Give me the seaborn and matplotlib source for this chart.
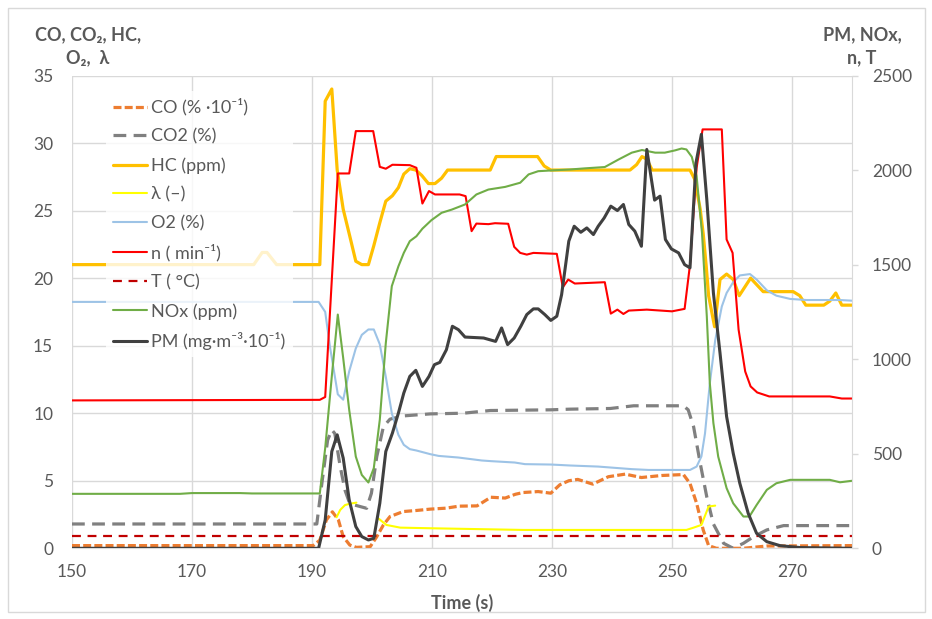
import matplotlib
matplotlib.use("Agg")
import matplotlib.pyplot as plt
from matplotlib.lines import Line2D
from matplotlib.patches import Rectangle
import seaborn as sns
import pandas as pd

# ---- data (time in s) ----
# left axis: CO (%*10^-1), CO2 (%), HC, lambda, O2 (%)
co_t = [150, 190.2, 191.3, 192.4, 193.4, 194.4, 195.2, 196.3, 197.4, 199.7,
        200.8, 201.9, 203, 205.2, 207.4, 209.7, 212.3, 214.5, 217.5, 219.8,
        222.2, 223.9, 225.2, 227.7, 229.8, 231.3, 232.8, 234.3, 236.8, 239.4,
        242.2, 244.9, 248.3, 251.9, 253, 254.1, 255.2, 256.1, 257.4, 261.9,
        265.8, 280]
co_v = [0.2, 0.2, 0.6, 2.1, 2.7, 2.1, 0.86, 0.24, 0.07, 0.12,
        0.86, 1.73, 2.35, 2.72, 2.8, 2.9, 2.97, 3.12, 3.14, 3.78,
        3.72, 4.0, 4.13, 4.2, 4.08, 4.7, 5.0, 5.1, 4.75, 5.3,
        5.49, 5.24, 5.39, 5.46, 4.8, 3.34, 1.36, 0.2, 0.0, 0.0,
        0.17, 0.2]

co2_t = [150, 190.8, 191.7, 192.6, 193.3, 193.8, 194.7, 195.5, 196.3, 199.1,
         199.9, 200.8, 201.9, 203, 205.2, 209.7, 215.2, 219.7, 229.7, 233,
         239.7, 243.6, 251.9, 252.7, 253.6, 254.7, 255.8, 256.9, 258.6, 260.2,
         261.9, 263.6, 265.8, 268.6, 280]
co2_v = [1.8, 1.8, 5.0, 8.0, 8.77, 8.5, 6.05, 4.3, 3.3, 2.96,
         4.07, 6.8, 9.0, 9.56, 9.8, 9.95, 10.0, 10.2, 10.25, 10.3,
         10.35, 10.55, 10.55, 10.25, 9.0, 6.3, 3.8, 1.8, 0.37, 0.0,
         0.37, 0.86, 1.36, 1.68, 1.68]

hc_t = [150, 180.3, 181.7, 182.5, 184.1, 191.3, 192.2, 193.3, 194.2, 195.2,
        196.3, 197.3, 198.3, 199.4, 200.3, 201.3, 202.3, 203.4, 204.4, 205.3,
        206.3, 207.3, 208.3, 209.4, 210.5, 211.6, 212.6, 219.7, 220.7, 227.6,
        228.7, 229.8, 243.0, 244.1, 245.0, 245.8, 246.7, 253.0, 253.8, 254.7,
        255.2, 255.7, 256.1, 257.1, 258.0, 259.1, 260.2, 261.2, 263.1, 265.2,
        270.2, 271.3, 272.3, 275.3, 276.3, 277.3, 278.3, 280]
hc_v = [21, 21, 21.9, 21.9, 21, 21, 33.1, 34.0, 28.0, 25.1,
        23.1, 21.25, 21.0, 21.0, 22.4, 24.1, 25.7, 26.1, 26.7, 27.7,
        28.1, 28.0, 27.6, 27.0, 27.0, 27.4, 28.0, 28.0, 29.0, 29.0,
        28.3, 28.0, 28.0, 28.4, 29.0, 28.8, 28.0, 28.0, 27.3, 25.1,
        23.3, 20.9, 18.7, 16.4, 19.9, 20.3, 19.9, 18.7, 20.0, 19.0,
        19.0, 18.7, 18.0, 18.0, 18.3, 18.9, 18.0, 18.0]

lam_t = [194.1, 194.7, 195.5, 196.3, 197.4,
         201.1, 202.4, 204.7, 210.2, 225.2, 252.4, 253.6, 254.9, 256.1, 257.2]
lam_v = [2.3, 2.84, 3.2, 3.3, 3.38,
         2.2, 1.73, 1.53, 1.48, 1.36, 1.36, 1.53, 1.73, 3.09, 3.16]
lam_seg = [0, 0, 0, 0, 0, 1, 1, 1, 1, 1, 1, 1, 1, 1, 1]

o2_t = [150, 191.1, 192.2, 193.0, 194.3, 195.2, 196.2, 197.3, 198.3, 199.4,
        200.3, 201.3, 202.3, 203.3, 204.4, 205.3, 206.3, 207.4, 209.7, 211.1,
        214.4, 218.3, 219.9, 223.8, 225.5, 229.9, 233.0, 237.7, 243.3, 246.1,
        253.0, 254.1, 254.9, 255.5, 256.3, 257.2, 258.3, 259.1, 260.2, 261.3,
        263.0, 264.1, 265.8, 267.4, 269.7, 272.4, 278.0, 280]
o2_v = [18.24, 18.24, 17.5, 14.9, 11.4, 11.0, 13.1, 14.8, 15.8, 16.2,
        16.2, 15.1, 12.7, 10.0, 8.4, 7.66, 7.34, 7.24, 6.97, 6.84,
        6.72, 6.5, 6.45, 6.35, 6.23, 6.2, 6.13, 6.05, 5.86, 5.8,
        5.8, 6.05, 6.8, 8.5, 12.2, 15.4, 17.9, 18.9, 19.7, 20.2,
        20.3, 19.9, 19.1, 18.7, 18.46, 18.38, 18.38, 18.33]

# right axis: n (min^-1), T (degC), NOx (ppm), PM (mg/m3*10^-1)
n_t = [150, 191.3, 192.2, 194.3, 196.2, 197.3, 200.2, 201.3, 202.3, 203.4,
       206.3, 207.4, 208.4, 209.5, 210.5, 214.6, 215.6, 216.6, 217.4, 219.4,
       220.5, 222.7, 223.7, 224.7, 225.8, 226.9, 230.8, 231.8, 232.7, 233.8,
       238.8, 239.8, 240.9, 241.9, 242.8, 245.8, 250.0, 252.1, 253.0, 254.1,
       255.1, 258.3, 259.1, 260.1, 261.1, 262.2, 263.1, 264.2, 266.2, 276.3,
       278.3, 280]
n_v = [782, 785, 800, 1982, 1982, 2206, 2206, 2017, 2007, 2028,
       2026, 2012, 1823, 1889, 1871, 1871, 1862, 1677, 1717, 1714,
       1719, 1716, 1594, 1562, 1553, 1562, 1557, 1380, 1421, 1400,
       1407, 1241, 1262, 1239, 1257, 1262, 1253, 1266, 1500, 2012,
       2215, 2215, 1633, 1562, 1156, 935, 856, 824, 803, 803,
       792, 792]

temp_t = [150, 280]
temp_v = [65, 65]

nox_t = [150, 168, 170, 178, 180, 191.3, 192.2, 193.3, 194.3, 195.2,
         196.2, 197.3, 198.3, 199.4, 200.3, 201.3, 202.3, 203.3, 204.4, 205.3,
         206.3, 207.4, 208.4, 209.9, 211.6, 213.3, 215.5, 217.4, 219.4, 222.2,
         224.7, 226.1, 227.7, 229.9, 233.0, 235.5, 238.8, 241.1, 243.3, 245.0,
         247.2, 248.8, 250.5, 251.6, 252.4, 253.3, 254.1, 255.0, 255.8, 256.3,
         256.9, 257.7, 259.1, 260.2, 261.9, 262.9, 264.1, 265.8, 267.4, 269.7,
         276.3, 278.0, 280]
nox_v = [288, 288, 292, 292, 290, 290, 530, 909, 1236, 1006,
         732, 485, 388, 348, 424, 680, 1085, 1386, 1491, 1562,
         1624, 1650, 1690, 1735, 1774, 1791, 1818, 1871, 1897, 1911,
         1933, 1977, 1994, 1998, 2003, 2009, 2016, 2056, 2092, 2106,
         2092, 2092, 2104, 2114, 2109, 2070, 1968, 1668, 1227, 874,
         662, 485, 318, 238, 168, 168, 229, 309, 344, 362,
         362, 349, 357]

pm_t = [150, 191.1, 192.2, 193.3, 194.2, 195.2, 196.2, 197.3, 198.3, 199.4,
        200.3, 201.3, 202.3, 203.4, 204.4, 205.3, 206.3, 207.3, 208.4, 209.5,
        210.4, 211.3, 212.4, 213.4, 214.4, 215.5, 218.6, 220.6, 221.6, 222.6,
        223.7, 224.8, 225.8, 226.9, 227.7, 228.8, 229.8, 230.8, 231.6, 232.8,
        233.7, 234.8, 235.8, 236.9, 237.7, 238.7, 239.8, 240.9, 241.9, 242.8,
        243.8, 244.9, 245.8, 247.1, 248.0, 248.9, 249.9, 251.1, 252.1, 253.0,
        254.0, 254.9, 255.8, 256.9, 258.0, 259.1, 260.2, 261.3, 262.7, 264.1,
        265.8, 268.0, 271.3, 280]
pm_v = [0, 0, 150, 512, 600, 477, 256, 115, 62, 44,
        53, 238, 512, 609, 715, 821, 909, 941, 856, 909,
        971, 983, 1050, 1174, 1156, 1117, 1112, 1094, 1165, 1077,
        1112, 1174, 1236, 1266, 1266, 1236, 1205, 1227, 1341, 1624,
        1703, 1671, 1694, 1659, 1703, 1747, 1809, 1786, 1818, 1712,
        1677, 1597, 2109, 1841, 1862, 1633, 1583, 1562, 1500, 1483,
        2039, 2189, 1844, 1350, 1033, 697, 503, 344, 185, 79,
        35, 14, 4, 0]

labels = ["CO (% ·10⁻¹)", "CO2 (%)", "HC (ppm)", "λ (–)", "O2 (%)",
          "n ( min⁻¹)", "T ( °C)", "NOx (ppm)", "PM (mg·m⁻³·10⁻¹)"]

sns.set_style("white")
plt.rcParams['font.family'] = ['Lato', 'DejaVu Sans']

GRAY = '#595959'
GRID = '#d9d9d9'

fig = plt.figure(figsize=(9.32, 6.19), dpi=100)
ax = fig.add_axes([72 / 932, 1 - 548.3 / 619, 780 / 932, 472.8 / 619])
ax2 = ax.twinx()

styles = {
    "CO": ('#ED7D31', 2.3, (0, (2.5, 1))),
    "CO2": ('#808080', 2.3, (0, (4, 2.3))),
    "HC": ('#FFC000', 2.3, '-'),
    "lam": ('#FFFF00', 1.5, '-'),
    "O2": ('#9DC3E6', 1.5, '-'),
    "n": ('#FF0000', 1.5, '-'),
    "T": ('#C00000', 1.6, (0, (4, 3))),
    "NOx": ('#70AD47', 1.5, '-'),
    "PM": ('#404040', 2.2, '-'),
}


def draw(axis, t, v, key):
    c, lw, ls = styles[key]
    sns.lineplot(x=t, y=v, ax=axis, color=c, lw=lw, linestyle=ls,
                 estimator=None, sort=False)


draw(ax, co_t, co_v, "CO")
draw(ax, co2_t, co2_v, "CO2")
draw(ax, hc_t, hc_v, "HC")
lam_df = pd.DataFrame({"t": lam_t, "v": lam_v, "seg": lam_seg})
c, lw, ls = styles["lam"]
sns.lineplot(data=lam_df, x="t", y="v", units="seg", estimator=None,
             sort=False, ax=ax, color=c, lw=lw)
draw(ax, o2_t, o2_v, "O2")

draw(ax2, n_t, n_v, "n")
draw(ax2, temp_t, temp_v, "T")
draw(ax2, nox_t, nox_v, "NOx")
draw(ax2, pm_t, pm_v, "PM")

ax.set_xlim(150, 280)
ax.set_ylim(0, 35)
ax2.set_ylim(0, 2500)
ax.set_xticks(range(150, 271, 20))
ax.set_yticks(range(0, 36, 5))
ax2.set_yticks(range(0, 2501, 500))
ax.set_xlabel("")
ax.set_ylabel("")
ax2.set_ylabel("")

ax.grid(True, color=GRID, lw=1)
ax2.grid(False)
ax.tick_params(axis='both', length=0, labelsize=12.5, labelcolor=GRAY)
ax.tick_params(axis='y', pad=13.5)
ax.tick_params(axis='x', pad=11)
ax2.tick_params(axis='y', length=4.3, width=1, color=GRID, pad=10,
                labelsize=12.5, labelcolor=GRAY, direction='out')

for a in (ax, ax2):
    for s in a.spines.values():
        s.set_visible(False)
ax.spines['bottom'].set_visible(True)
ax.spines['bottom'].set_color(GRID)
ax2.spines['right'].set_visible(True)
ax2.spines['right'].set_color(GRID)

handles = []
for key in ["CO", "CO2", "HC", "lam", "O2", "n", "T", "NOx", "PM"]:
    c, lw, ls = styles[key]
    handles.append(Line2D([], [], color=c, lw=lw, linestyle=ls))
leg = ax2.legend(handles, labels, loc='upper left',
                 bbox_to_anchor=(0.0436, 0.967), frameon=True,
                 framealpha=0.8, facecolor='white', edgecolor='none',
                 fontsize=13, handlelength=1.85, handletextpad=0.25,
                 labelspacing=0.7, borderpad=0.4, borderaxespad=0)
for txt in leg.get_texts():
    txt.set_color(GRAY)

fig.text(88 / 932, 1 - 46.5 / 619, "CO, CO₂, HC,\nO₂,  λ", ha='center',
         va='center', fontsize=13, fontweight='bold', color=GRAY,
         linespacing=1.45)
fig.text(862 / 932, 1 - 46.5 / 619, "PM, NOx,\nn, T", ha='center',
         va='center', fontsize=13, fontweight='bold', color=GRAY,
         linespacing=1.45)
fig.text(462 / 932, 1 - 603 / 619, "Time (s)", ha='center', va='center',
         fontsize=13, fontweight='bold', color=GRAY)

fig.patches.append(Rectangle((8 / 932, 7 / 619), 917 / 932, 604 / 619,
                             transform=fig.transFigure, fill=False,
                             edgecolor=GRID, lw=1))

fig.savefig("out.png", dpi=100)
